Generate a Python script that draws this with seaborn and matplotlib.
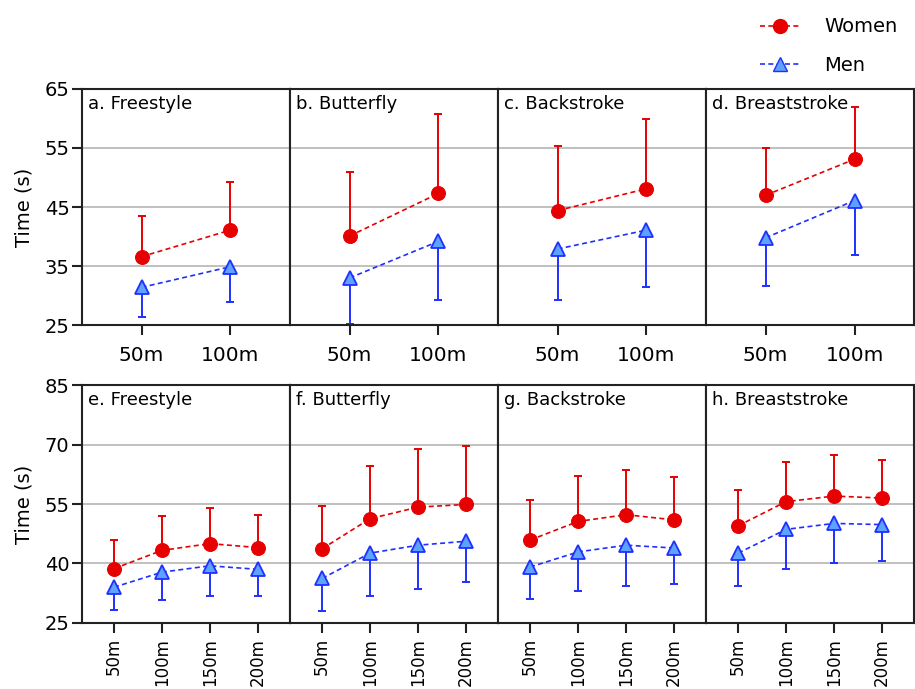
import seaborn as sns
import matplotlib.pyplot as plt
from matplotlib.lines import Line2D
import pandas as pd

sns.set_style("white")
plt.rcParams["font.family"] = ["DejaVu Sans"]
plt.rcParams["text.color"] = "black"
plt.rcParams["axes.labelcolor"] = "black"
plt.rcParams["xtick.color"] = "black"
plt.rcParams["ytick.color"] = "black"

strokes = ["Freestyle", "Butterfly", "Backstroke", "Breaststroke"]
short_dist = ["50m", "100m"]
long_dist = ["50m", "100m", "150m", "200m"]

# top row (short events): means and one-sided SDs
women_short = [[36.6, 41.1], [40.1, 47.3], [44.4, 48.1], [47.0, 53.1]]
women_short_sd = [[6.9, 8.2], [10.9, 13.4], [10.9, 11.8], [8.0, 8.8]]
men_short = [[31.4, 34.9], [33.0, 39.2], [37.9, 41.1], [39.8, 46.1]]
men_short_sd = [[5.0, 5.9], [7.8, 9.9], [8.6, 9.6], [8.1, 9.2]]

# bottom row (long events)
women_long = [[38.7, 43.3, 45.0, 44.0], [43.7, 51.3, 54.2, 54.9],
              [45.9, 50.6, 52.3, 51.0], [49.5, 55.6, 57.0, 56.5]]
women_long_sd = [[7.1, 8.6, 9.0, 8.3], [10.8, 13.4, 14.7, 14.8],
                 [10.1, 11.5, 11.2, 10.7], [9.0, 10.0, 10.4, 9.5]]
men_long = [[34.0, 37.8, 39.4, 38.5], [36.2, 42.6, 44.6, 45.6],
            [39.1, 42.9, 44.6, 43.9], [42.6, 48.6, 50.1, 49.8]]
men_long_sd = [[5.8, 7.0, 7.6, 6.8], [8.3, 10.9, 11.0, 10.4],
               [8.2, 9.8, 10.3, 9.2], [8.3, 9.9, 9.9, 9.2]]

red = "#e60000"
blue = "#1f2fff"
light_blue = "#5ea2ff"

rows = [
    (short_dist, women_short, women_short_sd, men_short, men_short_sd,
     (25, 65), [25, 35, 45, 55, 65], "abcd"),
    (long_dist, women_long, women_long_sd, men_long, men_long_sd,
     (25, 85), [25, 40, 55, 70, 85], "efgh"),
]

fig = plt.figure(figsize=(9.15, 6.89), dpi=100)
row_boxes = [(0.528, 0.871), (0.096, 0.441)]
left, right = 0.0896, 0.999
w = (right - left) / 4

for r, (dists, wm, wsd, mm, msd, ylim, yticks, letters) in enumerate(rows):
    bottom, top = row_boxes[r]
    for c, stroke in enumerate(strokes):
        ax = fig.add_axes([left + c * w, bottom, w, top - bottom])
        pos = list(range(len(dists)))
        df = pd.DataFrame({
            "pos": pos * 2,
            "time": wm[c] + mm[c],
            "sex": ["Women"] * len(dists) + ["Men"] * len(dists),
        })
        sns.lineplot(data=df, x="pos", y="time", hue="sex", style="sex",
                     palette={"Women": red, "Men": blue},
                     markers={"Women": "o", "Men": "^"},
                     dashes={"Women": (3, 2), "Men": (3, 2)},
                     linewidth=1.2, markersize=10, legend=False, ax=ax, zorder=3)
        for ln in ax.lines:
            if ln.get_marker() == "^":
                ln.set_markerfacecolor(light_blue)
                ln.set_markeredgecolor(blue)
                ln.set_markeredgewidth(1.3)
            else:
                ln.set_markeredgecolor(red)
        ax.errorbar(pos, wm[c], yerr=[[0] * len(dists), wsd[c]], fmt="none",
                    ecolor=red, elinewidth=1.4, capsize=3, capthick=1.4, zorder=2)
        ax.errorbar(pos, mm[c], yerr=[msd[c], [0] * len(dists)], fmt="none",
                    ecolor=blue, elinewidth=1.4, capsize=3, capthick=1.4, zorder=2)

        n = len(dists)
        ax.set_xlim(-0.67, n - 1 + 0.67)
        ax.set_ylim(*ylim)
        ax.set_yticks(yticks)
        ax.set_xticks(pos)
        if r == 0:
            ax.set_xticklabels(dists, fontsize=14.5)
            ax.tick_params(axis="x", pad=8)
        else:
            ax.set_xticklabels(dists, fontsize=12, rotation=90)
            ax.tick_params(axis="x", pad=4)
        ax.grid(axis="y", color="#b5b5b5", linewidth=1.2)
        ax.set_axisbelow(True)
        ax.set_xlabel("")
        for sp in ax.spines.values():
            sp.set_color("#222222")
            sp.set_linewidth(1.5)
        ax.tick_params(axis="x", direction="out", length=7, width=1.5,
                       bottom=True, color="#222222")
        if c == 0:
            ax.set_ylabel("Time (s)", fontsize=14, labelpad=8)
            ax.tick_params(axis="y", direction="out", length=7, width=1.5,
                           left=True, labelsize=14, color="#222222", pad=2)
        else:
            ax.set_ylabel("")
            ax.tick_params(axis="y", left=False, labelleft=False)
        ax.text(0.03, 0.975, f"{letters[c]}. {stroke}", transform=ax.transAxes,
                ha="left", va="top", fontsize=13)

handles = [
    Line2D([0], [0], color=red, linestyle=(0, (3, 2)), marker="o",
           markersize=10, markeredgecolor=red, linewidth=1.2),
    Line2D([0], [0], color=blue, linestyle=(0, (3, 2)), marker="^",
           markersize=10, markerfacecolor=light_blue, markeredgecolor=blue,
           linewidth=1.2),
]
fig.legend(handles, ["Women", "Men"], loc="upper right",
           bbox_to_anchor=(1.0, 1.0), frameon=False, fontsize=14,
           labelspacing=1.0, handlelength=2.0, handletextpad=1.3)

fig.savefig("out.png", dpi=100)
plt.close(fig)
